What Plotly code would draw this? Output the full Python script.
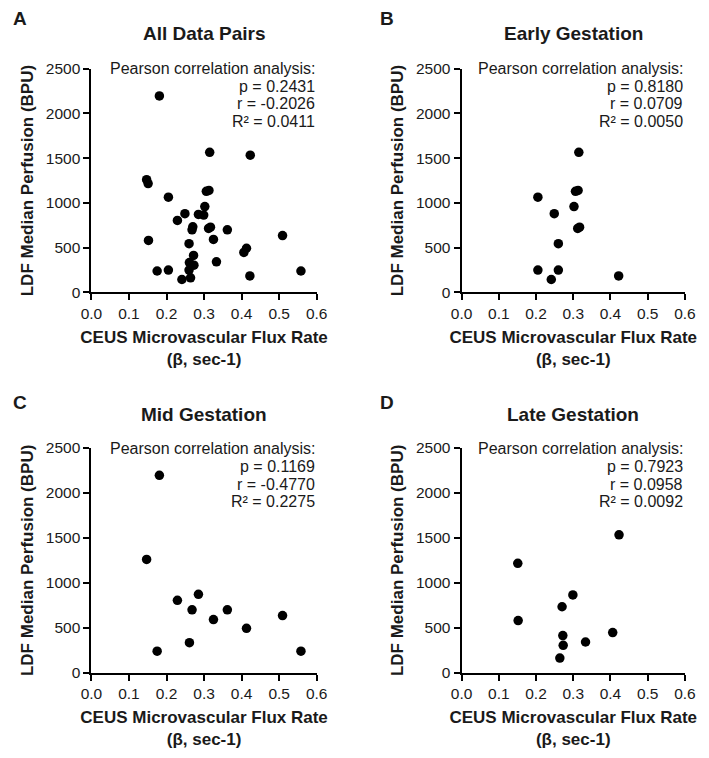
import plotly.graph_objects as go

# ---------------- data ----------------
early_x = [0.205, 0.315, 0.306, 0.313, 0.302, 0.249, 0.312, 0.317, 0.260, 0.205, 0.260, 0.241, 0.422]
early_y = [1065, 1565, 1130, 1140, 960, 880, 715, 730, 545, 250, 250, 145, 185]

mid_x = [0.181, 0.147, 0.229, 0.285, 0.268, 0.325, 0.362, 0.413, 0.509, 0.558, 0.175, 0.261]
mid_y = [2195, 1260, 805, 872, 700, 592, 700, 494, 636, 240, 240, 334]

late_x = [0.151, 0.152, 0.423, 0.299, 0.270, 0.272, 0.273, 0.264, 0.333, 0.406]
late_y = [1217, 581, 1534, 865, 734, 414, 305, 164, 342, 447]

all_x = early_x + mid_x + late_x
all_y = early_y + mid_y + late_y

panel_titles = ["All Data Pairs", "Early Gestation", "Mid Gestation", "Late Gestation"]
panel_letters = ["A", "B", "C", "D"]
p_values = ["0.2431", "0.8180", "0.1169", "0.7923"]
r_values = ["-0.2026", "0.0709", "-0.4770", "0.0958"]
r2_values = ["0.0411", "0.0050", "0.2275", "0.0092"]

x_ticks = [0.0, 0.1, 0.2, 0.3, 0.4, 0.5, 0.6]
y_ticks = [0, 500, 1000, 1500, 2000, 2500]

x_title = "<b>CEUS Microvascular Flux Rate<br>(β, sec-1)</b>"
y_title = "<b>LDF Median Perfusion (BPU)</b>"

series = [(all_x, all_y), (early_x, early_y), (mid_x, mid_y), (late_x, late_y)]

# ---------------- layout geometry (pixels) ----------------
W, H = 709, 758
FONT = "Arial, Liberation Sans, Helvetica, sans-serif"
TXT = "#1a1a1a"

cols = [(83, 315.5), (465, 695.5)]
rows = [(61, 290), (449, 679)]
row_pos = [
    dict(label=10, title=25, stats=[61, 79, 97, 115]),
    dict(label=403, title=415, stats=[450, 468, 486, 504]),
]
col_pos = [dict(label=9), dict(label=388)]


def px(x):
    return x / W


def py(y):
    return 1 - y / H


fig = go.Figure()
annotations = []
layout_axes = {}

for i in range(4):
    r, c = divmod(i, 2)
    l, rr = cols[c]
    t, b = rows[r]
    xa = "x" if i == 0 else f"x{i+1}"
    ya = "y" if i == 0 else f"y{i+1}"
    xs, ys = series[i]
    fig.add_trace(go.Scatter(
        x=xs, y=ys, mode="markers", xaxis=xa, yaxis=ya,
        marker=dict(size=9.5, color="black", line=dict(width=0)),
        cliponaxis=False, showlegend=False, hoverinfo="x+y",
    ))
    axis_common = dict(
        showline=True, linecolor="black", linewidth=2, mirror=False,
        ticks="outside", ticklen=6, tickwidth=2, tickcolor="black",
        showgrid=False, zeroline=False,
        tickfont=dict(family=FONT, size=15.5, color=TXT),
        fixedrange=True,
    )
    layout_axes["xaxis" if i == 0 else f"xaxis{i+1}"] = dict(
        axis_common, domain=[px(l), px(rr)], range=[0, 0.6],
        tickvals=x_ticks, tickformat=".1f", anchor=ya,
        title=dict(text=x_title, font=dict(family=FONT, size=17, color=TXT), standoff=10),
    )
    layout_axes["yaxis" if i == 0 else f"yaxis{i+1}"] = dict(
        axis_common, domain=[py(b), py(t)], range=[0, 2500],
        tickvals=y_ticks, anchor=xa,
        title=dict(text=y_title, font=dict(family=FONT, size=17, color=TXT), standoff=8),
    )

    rp, cp = row_pos[r], col_pos[c]
    cx = (l + rr) / 2
    # panel letter
    annotations.append(dict(text=f"<b>{panel_letters[i]}</b>", x=px(cp["label"]), y=py(rp["label"]),
                            xref="paper", yref="paper", xanchor="center", yanchor="middle",
                            showarrow=False, font=dict(family=FONT, size=19, color=TXT)))
    # title
    annotations.append(dict(text=f"<b>{panel_titles[i]}</b>", x=px(cx), y=py(rp["title"]),
                            xref="paper", yref="paper", xanchor="center", yanchor="middle",
                            showarrow=False, font=dict(family=FONT, size=19, color=TXT)))
    # stats
    lines = ["Pearson correlation analysis:", f"p = {p_values[i]}", f"r = {r_values[i]}",
             f"R² = {r2_values[i]}"]
    for ln, yy in zip(lines, rp["stats"]):
        annotations.append(dict(text=ln, x=px(rr), y=py(yy), xref="paper", yref="paper",
                                xanchor="right", yanchor="middle", showarrow=False,
                                font=dict(family=FONT, size=16, color=TXT)))

fig.update_layout(
    width=W, height=H,
    margin=dict(l=0, r=0, t=0, b=0),
    paper_bgcolor="white", plot_bgcolor="white",
    annotations=annotations,
    **layout_axes,
)

fig.write_html("out.html")
